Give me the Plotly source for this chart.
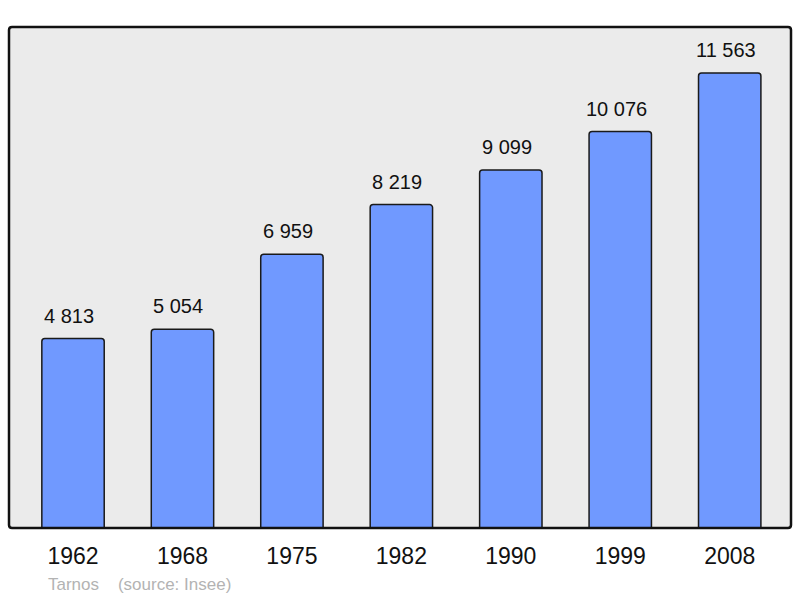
import plotly.graph_objects as go

years = ["1962", "1968", "1975", "1982", "1990", "1999", "2008"]
population = [4813, 5054, 6959, 8219, 9099, 10076, 11563]
labels = ["4 813", "5 054", "6 959", "8 219", "9 099", "10 076", "11 563"]

FONT = "Liberation Sans, Arial, sans-serif"
xpos = list(range(len(years)))

fig = go.Figure()
fig.add_trace(go.Bar(
    x=xpos, y=population,
    width=0.57,
    marker=dict(color="#7099ff", line=dict(color="#1a1a1a", width=1.5), cornerradius=3),
    hoverinfo="skip",
))

annotations = [dict(x=x, y=v, text=t, xref="x", yref="y", showarrow=False,
                    yanchor="bottom", xanchor="center", yshift=10, xshift=-4,
                    font=dict(family=FONT, size=20, color="#111"))
               for x, v, t in zip(xpos, population, labels)]
annotations.append(dict(text="Tarnos    (source: Insee)", xref="paper", yref="paper",
                        x=(46 - 9) / 782, y=0, yshift=-56, xanchor="left", yanchor="middle",
                        showarrow=False,
                        font=dict(family=FONT, size=17, color="#b3b3b3")))

# rounded frame in paper coords
rx, ry = 3 / 782, 3 / 501
path = (f"M {rx},0 L {1-rx},0 Q 1,0 1,{ry} L 1,{1-ry} Q 1,1 {1-rx},1 "
        f"L {rx},1 Q 0,1 0,{1-ry} L 0,{ry} Q 0,0 {rx},0 Z")

fig.update_layout(
    width=800, height=598,
    margin=dict(l=9, r=9, t=27, b=70),
    paper_bgcolor="white", plot_bgcolor="#ebebeb",
    showlegend=False,
    xaxis=dict(range=[-0.585, 6.56], tickvals=xpos, ticktext=years,
               showgrid=False, zeroline=False, showline=False, ticks="",
               tickfont=dict(family=FONT, size=23, color="#111"),
               ticklabelstandoff=12, fixedrange=True),
    yaxis=dict(range=[0, 12732], showgrid=False, zeroline=False, showticklabels=False,
               showline=False, ticks="", fixedrange=True),
    shapes=[dict(type="path", xref="paper", yref="paper", path=path,
                 line=dict(color="#111", width=2.5), layer="above")],
    annotations=annotations,
)
fig.write_html("out.html", config={"displayModeBar": False},
               post_script="document.body.style.margin='0';document.body.style.overflow='hidden';")
